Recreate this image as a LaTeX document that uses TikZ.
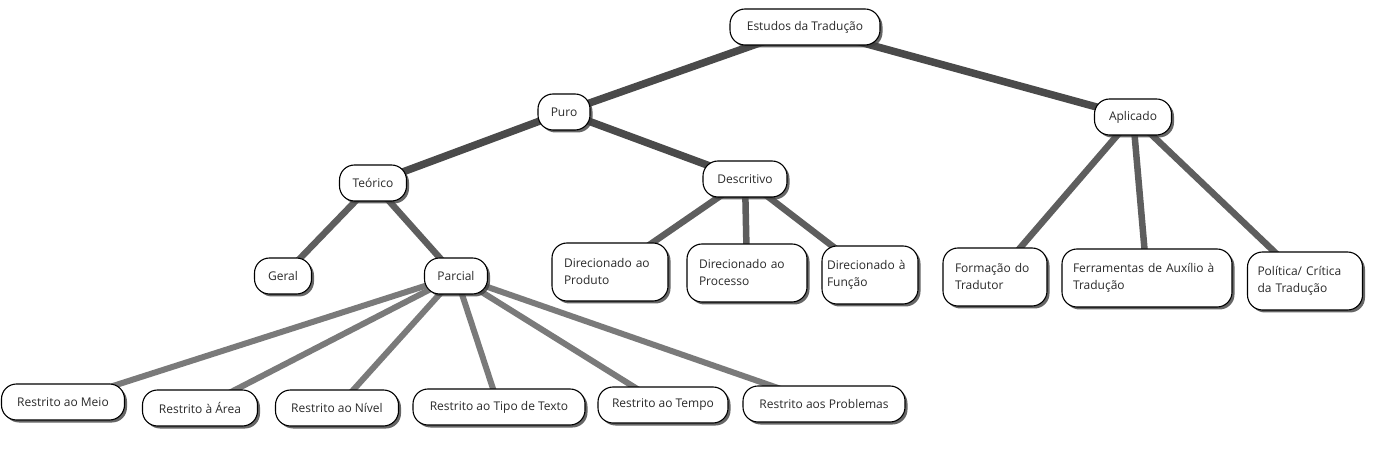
\documentclass[tikz,border=0pt]{standalone}
\usepackage{fontspec}
\setmainfont{Open Sans}
\usetikzlibrary{shadows}
\pgfdeclarelayer{bg}
\pgfsetlayers{bg,main}
\definecolor{edgedark}{HTML}{4A4A4A}
\definecolor{edgemid}{HTML}{5E5E5E}
\definecolor{edgelight}{HTML}{7A7A7A}
\definecolor{txt}{HTML}{2A2A2A}
\tikzset{
  box/.style={draw=black, line width=1.1pt, fill=white, rounded corners=15pt,
    minimum height=36pt, inner sep=2pt, font=\fontsize{12}{17}\selectfont, text=txt,
    drop shadow={shadow xshift=2.5pt, shadow yshift=-2.5pt, fill=black!75, opacity=0.8}},
  tall/.style={box, minimum height=58pt, align=left, anchor=center, inner xsep=12pt},
  e1/.style={draw=edgedark, line width=7.5pt},
  e2/.style={draw=edgemid, line width=6.5pt},
  e3/.style={draw=edgelight, line width=6pt},
}
\begin{document}
\begin{tikzpicture}[x=1pt,y=1pt]
\useasboundingbox (0,0) rectangle (1378,450);
% nodes (y = 450 - pixel y)
\node[box, minimum width=150pt] (est) at (805,423) {Estudos da Tradução};
\node[box, minimum width=52pt] (puro) at (564,338) {Puro};
\node[box, minimum width=77pt] (apl) at (1133,333) {Aplicado};
\node[box, minimum width=67pt] (teo) at (373,267) {Teórico};
\node[box, minimum width=84pt] (desc) at (745,271) {Descritivo};
\node[box, minimum width=57pt] (geral) at (283,174) {Geral};
\node[box, minimum width=63pt] (parc) at (456,174) {Parcial};
\node[tall, text width=92pt, minimum width=116pt] (prod) at (610,178) {Direcionado ao\\Produto};
\node[tall, text width=96pt, minimum width=120pt] (proc) at (747,177) {Direcionado ao\\Processo};
\node[tall, text width=86pt, minimum width=96pt, inner xsep=5pt] (func) at (870,175) {Direcionado~à\\Função};
\node[tall, text width=80pt, minimum width=104pt] (form) at (995,173) {Formação do\\Tradutor};
\node[tall, text width=148pt, minimum width=170pt, inner xsep=11pt] (ferr) at (1147,172) {Ferramentas de Auxílio à\\Tradução};
\node[tall, text width=95pt, minimum width=115pt, inner xsep=10pt] (pol) at (1305,169) {Política/ Crítica\\da Tradução};
\node[box, minimum width=123pt] (meio) at (63,48) {Restrito ao Meio};
\node[box, minimum width=115pt] (area) at (200,42) {Restrito à Área};
\node[box, minimum width=123pt] (nivel) at (337,42) {Restrito ao Nível};
\node[box, minimum width=172pt] (tipo) at (499,43) {Restrito ao Tipo de Texto};
\node[box, minimum width=130pt] (tempo) at (663,45) {Restrito ao Tempo};
\node[box, minimum width=162pt] (prob) at (824,46) {Restrito aos Problemas};
% edges
\begin{pgfonlayer}{bg}
\draw[e1] (est.center) -- (puro.center);
\draw[e1] (est.center) -- (apl.center);
\draw[e1] (puro.center) -- (teo.center);
\draw[e1] (puro.center) -- (desc.center);
\draw[e2] (teo.center) -- (geral.center);
\draw[e2] (teo.center) -- (parc.center);
\draw[e2] (desc.center) -- (prod.center);
\draw[e2] (desc.center) -- (proc.center);
\draw[e2] (desc.center) -- (func.center);
\draw[e2] (apl.center) -- (form.center);
\draw[e2] (apl.center) -- (ferr.center);
\draw[e2] (apl.center) -- (pol.center);
\draw[e3] (parc.center) -- (meio.center);
\draw[e3] (parc.center) -- (area.center);
\draw[e3] (parc.center) -- (nivel.center);
\draw[e3] (parc.center) -- (tipo.center);
\draw[e3] (parc.center) -- (tempo.center);
\draw[e3] (parc.center) -- (prob.center);
\end{pgfonlayer}
\end{tikzpicture}
\end{document}
